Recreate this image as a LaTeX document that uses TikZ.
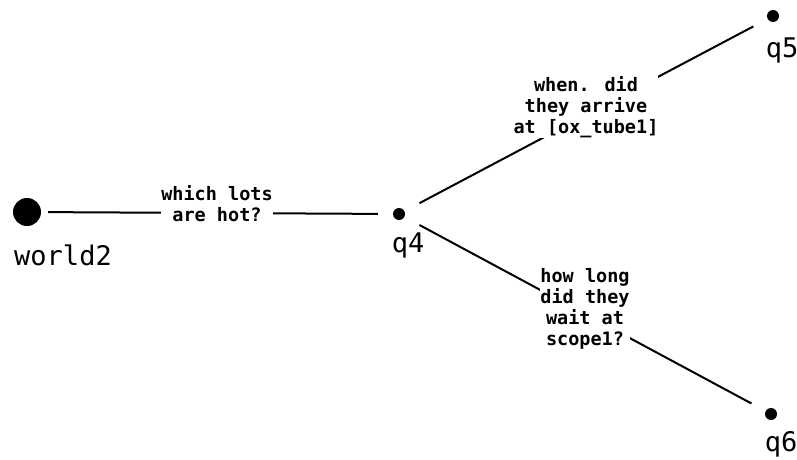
\documentclass[tikz,border=0pt]{standalone}
\usepackage{fontspec}
\usepackage{tikz}
\usetikzlibrary{positioning}
\newfontfamily\treefont{DejaVu Sans Mono}
\tikzset{x=1pt, y=-1pt, % one unit per pixel of the picture
every dot/.style={ % Sets the properties for each world
circle, fill=black, inner sep=0pt},
bigdot/.style={every dot, minimum size=28pt},
smalldot/.style={every dot, minimum size=12pt},
every label/.style={font=\treefont\fontsize{27}{29}\selectfont, inner sep=0pt},
every edge/.style={ % Sets the properties for each transition
draw, line width=2pt},
qlabel/.style={fill=white, inner sep=0pt, align=center,
font=\treefont\bfseries\fontsize{18.5}{21}\selectfont}}
\begin{document}
\begin{tikzpicture}

    \useasboundingbox (0,0) rectangle (797,460);

    \node[bigdot, label={[xshift=36pt, yshift=-18pt]below:world2}] (world2) at (27,212) {};
    \node[smalldot, label={[xshift=9pt, yshift=-12pt]below:q4}] (q4) at (399,214) {};
    \node[smalldot, label={[xshift=9pt, yshift=-15pt]below:q5}] (q5) at (773,16) {};
    \node[smalldot, label={[xshift=10pt, yshift=-11pt]below:q6}] (q6) at (771,414) {};

    \draw (world2) edge[shorten <=7pt, shorten >=15pt] node[qlabel, yshift=9pt] {which lots\\are hot?} (q4);
    \draw (q4) edge[shorten <=17pt, shorten >=16pt] node[qlabel, yshift=8pt] {when. did\\they arrive\\at [ox\_tube1]} (q5);
    \draw (q4) edge[shorten <=17pt, shorten >=16pt] node[qlabel, yshift=5pt] {how long\\did they\\wait at\\scope1?} (q6);

\end{tikzpicture}
\end{document}
